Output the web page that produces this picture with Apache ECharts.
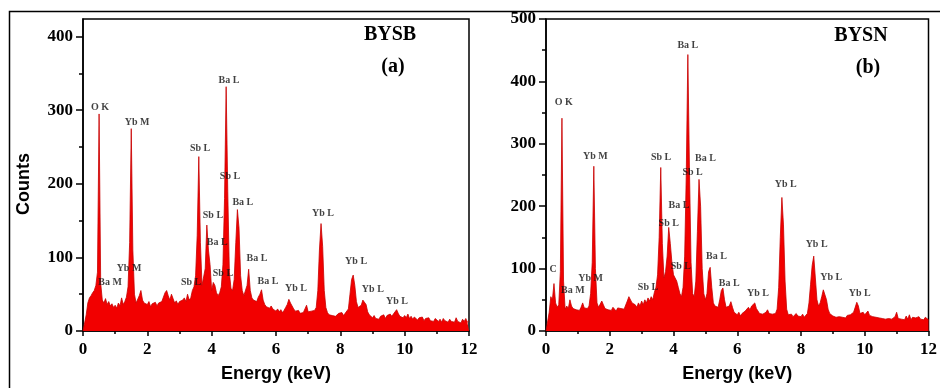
<!DOCTYPE html>
<html>
<head>
<meta charset="utf-8">
<script src="https://cdn.jsdelivr.net/npm/echarts@6/dist/echarts.min.js"></script>
<style>
  html, body { margin: 0; padding: 0; background: #fff; }
  #main { width: 940px; height: 388px; }
</style>
</head>
<body>
<div id="main"></div>
<script>
// channel width of the spectra, keV
const step = 0.05;

// BYSB (a), counts per channel, one row per keV
const countsA = [
  0, 0, 22, 38, 45, 48, 52, 55, 62, 80, 295, 65, 42, 38, 44, 36, 40, 34, 37, 32,
  35, 31, 38, 34, 45, 36, 40, 46, 60, 120, 275, 110, 50, 38, 40, 48, 55, 42, 38, 40,
  36, 40, 33, 37, 35, 39, 34, 38, 36, 40, 42, 52, 55, 48, 42, 50, 44, 38, 41, 36,
  40, 38, 42, 45, 40, 50, 42, 45, 55, 60, 75, 130, 237, 120, 62, 60, 85, 144, 110, 90,
  55, 66, 62, 52, 48, 52, 60, 90, 180, 332, 190, 80, 58, 55, 70, 120, 165, 140, 75, 55,
  48, 50, 62, 84, 55, 45, 42, 44, 40, 46, 50, 56, 42, 36, 33, 35, 31, 34, 30, 32,
  27, 30, 26, 29, 25, 28, 32, 36, 43, 38, 40, 30, 27, 25, 28, 24, 26, 25, 30, 35,
  26, 24, 27, 25, 28, 32, 55, 110, 146, 115, 55, 32, 25, 22, 24, 21, 23, 20, 22, 24,
  22, 25, 21, 24, 26, 30, 50, 70, 76, 62, 40, 32, 30, 35, 42, 43, 36, 26, 22, 20,
  18, 21, 17, 19, 16, 20, 18, 22, 17, 21, 19, 23, 20, 22, 26, 29, 24, 20, 22, 18,
  21, 18, 23, 17, 20, 16, 19, 17, 15, 18, 16, 19, 14, 17, 15, 18, 14, 16, 13, 17,
  15, 13, 16, 12, 17, 14, 15, 12, 16, 13, 15, 12, 18, 13, 14, 11, 16, 13, 17, 12, 14
];

// BYSN (b)
const countsB = [
  0, 0, 30, 55, 50, 76, 45, 38, 42, 95, 341, 80, 35, 40, 36, 50, 40, 36, 38, 34,
  36, 33, 38, 45, 37, 34, 36, 40, 60, 110, 264, 100, 45, 38, 40, 48, 42, 36, 38, 34,
  36, 33, 38, 35, 32, 37, 34, 36, 33, 35, 38, 48, 55, 52, 45, 48, 42, 38, 45, 40,
  48, 42, 50, 45, 53, 48, 55, 50, 62, 70, 90, 150, 262, 140, 85, 95, 120, 166, 140, 110,
  90, 92, 80, 70, 60, 55, 70, 120, 250, 443, 260, 110, 60, 55, 80, 160, 243, 200, 100, 60,
  50, 60, 95, 102, 70, 45, 40, 42, 38, 50, 65, 69, 50, 38, 35, 40, 47, 38, 30, 28,
  26, 30, 24, 28, 26, 32, 35, 38, 34, 40, 38, 45, 36, 32, 28, 25, 27, 24, 30, 34,
  28, 25, 27, 24, 28, 35, 70, 150, 214, 170, 80, 35, 26, 24, 27, 23, 25, 28, 24, 26,
  23, 27, 22, 25, 28, 45, 75, 105, 120, 85, 50, 40, 45, 55, 66, 69, 50, 35, 28, 25,
  24, 27, 22, 25, 23, 26, 22, 24, 21, 25, 23, 26, 24, 30, 38, 46, 40, 28, 25, 30,
  26, 29, 32, 25, 28, 23, 26, 22, 24, 21, 23, 20, 22, 19, 21, 20, 22, 19, 21, 23,
  30, 20, 22, 19, 21, 18, 24, 19, 26, 18, 22, 19, 21, 18, 23, 19, 21, 18, 22, 19, 18
];

const xTicks = [0, 2, 4, 6, 8, 10, 12];
const yTicksA = [0, 100, 200, 300, 400];
const yMinorA = [50, 150, 250, 350];
const yTicksB = [0, 100, 200, 300, 400, 500];
const yMinorB = [50, 150, 250, 350, 450];

// peak labels: text, energy (keV), counts
const labelsA = [
  ['O K', 0.53, 304], ['Yb M', 1.68, 284], ['Sb L', 3.64, 248], ['Ba L', 4.54, 340],
  ['Sb L', 4.57, 210], ['Ba L', 4.97, 175], ['Sb L', 4.04, 157], ['Ba L', 4.17, 120],
  ['Sb L', 4.35, 78], ['Sb L', 3.36, 66], ['Ba L', 5.41, 98], ['Ba L', 5.75, 68],
  ['Yb M', 1.43, 85], ['Ba M', 0.84, 66], ['Yb L', 6.62, 58], ['Yb L', 7.46, 160],
  ['Yb L', 8.49, 94], ['Yb L', 9.01, 57], ['Yb L', 9.76, 40]
];
const labelsB = [
  ['O K', 0.56, 366], ['Yb M', 1.55, 280], ['Sb L', 3.61, 278], ['Ba L', 4.45, 457],
  ['Ba L', 5.0, 276], ['Sb L', 4.6, 254], ['Ba L', 4.17, 201], ['Sb L', 3.85, 172],
  ['Sb L', 4.23, 104], ['Ba L', 5.35, 120], ['Ba L', 5.75, 77], ['C', 0.22, 99],
  ['Yb M', 1.40, 84], ['Ba M', 0.84, 65], ['Sb L', 3.20, 70], ['Yb L', 7.52, 235],
  ['Yb L', 8.49, 138], ['Yb L', 8.95, 86], ['Yb L', 9.84, 60], ['Yb L', 6.65, 60]
];

const serif = "'Liberation Serif', 'DejaVu Serif', serif";
const sans = "'Liberation Sans', Arial, sans-serif";
const black = { color: '#000', width: 1.5 };

function pairs(counts) {
  return counts.map((c, i) => [+(i * step).toFixed(2), c]);
}

function xAxes(g) {
  return [{
    type: 'value', gridIndex: g, min: 0, max: 12, interval: 2,
    axisLine: { lineStyle: black },
    axisTick: { length: 5, lineStyle: black },
    minorTick: { show: true, splitNumber: 2, length: 3, lineStyle: black },
    splitLine: { show: false },
    minorSplitLine: { show: false },
    axisLabel: {
      customValues: xTicks, margin: 10, color: '#000',
      fontFamily: serif, fontWeight: 'bold', fontSize: 17
    },
    name: 'Energy (keV)', nameLocation: 'middle', nameGap: 34,
    nameTextStyle: { fontFamily: sans, fontWeight: 'bold', fontSize: 18, color: '#000' }
  }];
}

function yAxes(g, max, ticks, minor) {
  return [{
    type: 'value', gridIndex: g, min: 0, max: max, position: 'left',
    axisLine: { show: true, lineStyle: black },
    axisTick: { show: true, customValues: ticks, length: 7, lineStyle: black },
    splitLine: { show: false },
    axisLabel: {
      customValues: ticks, margin: 10, color: '#000',
      fontFamily: serif, fontWeight: 'bold', fontSize: 17
    }
  }, {
    type: 'value', gridIndex: g, min: 0, max: max, position: 'left',
    axisLine: { show: false },
    axisTick: { show: true, customValues: minor, length: 4, lineStyle: black },
    splitLine: { show: false },
    axisLabel: { show: false }
  }];
}

function spectrum(idx, counts) {
  return {
    type: 'line', xAxisIndex: idx, yAxisIndex: idx * 2,
    data: pairs(counts),
    symbol: 'none', showSymbol: false,
    lineStyle: { color: '#c80000', width: 0.8 },
    areaStyle: { color: '#f20000', opacity: 1 },
    z: 2
  };
}

function peakLabels(idx, labels) {
  return {
    type: 'scatter', xAxisIndex: idx, yAxisIndex: idx * 2,
    symbolSize: 1, silent: true,
    itemStyle: { color: 'rgba(0,0,0,0)' },
    data: labels.map(l => ({ name: l[0], value: [l[1], l[2]] })),
    label: {
      show: true, position: 'inside', formatter: '{b}', color: '#111',
      fontFamily: serif, fontWeight: 'bold', fontSize: 10
    },
    z: 5
  };
}

function caption(text, x, y) {
  return {
    type: 'text', x: x, y: y,
    style: {
      text: text, fill: '#000', align: 'center', verticalAlign: 'middle',
      font: "bold 20px " + serif
    }
  };
}

const chart = echarts.init(document.getElementById('main'));
chart.setOption({
  animation: false,
  backgroundColor: '#fff',
  grid: [
    { left: 83, top: 19, width: 386, height: 315, show: true, borderColor: '#000', borderWidth: 1.5 },
    { left: 546, top: 19, width: 386, height: 316, show: true, borderColor: '#000', borderWidth: 1.5 }
  ],
  xAxis: [...xAxes(0), ...xAxes(1)],
  yAxis: [...yAxes(0, 424, yTicksA, yMinorA), ...yAxes(1, 500, yTicksB, yMinorB)],
  series: [
    spectrum(0, countsA), spectrum(1, countsB),
    peakLabels(0, labelsA), peakLabels(1, labelsB)
  ],
  graphic: [
    {
      type: 'rect', shape: { x: 9.5, y: 11.5, width: 960, height: 400 },
      style: { fill: 'none', stroke: '#000', lineWidth: 1.5 }, z: -1
    },
    {
      type: 'text', x: 24, y: 184, rotation: Math.PI / 2,
      style: {
        text: 'Counts', fill: '#000', align: 'center', verticalAlign: 'middle',
        font: "bold 18px " + sans
      }
    },
    caption('BYSB', 390, 35), caption('(a)', 393, 67),
    caption('BYSN', 861, 36), caption('(b)', 868, 68)
  ]
});
</script>
</body>
</html>
